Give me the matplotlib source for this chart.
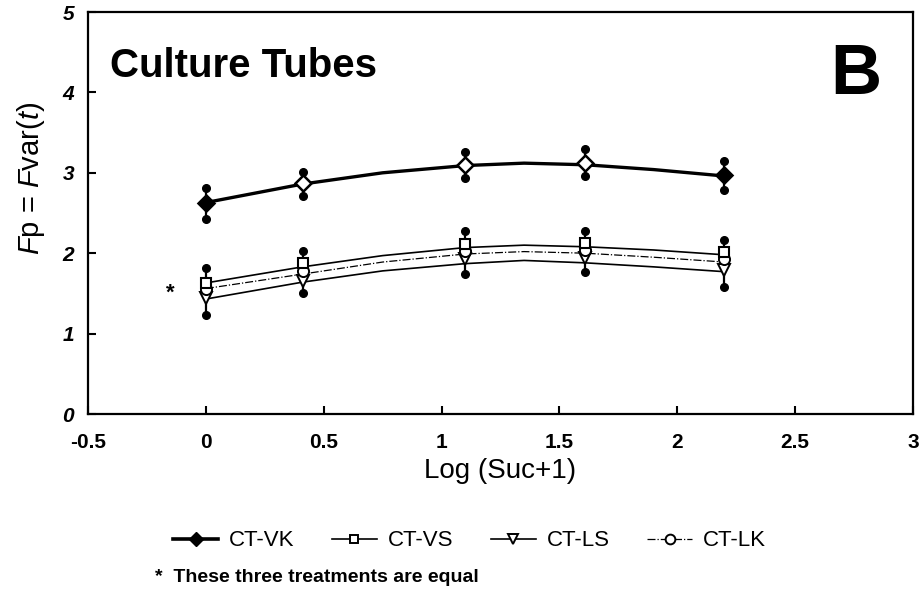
import numpy as np
import matplotlib
matplotlib.use("Agg")
from matplotlib import pyplot as plt
from matplotlib.lines import Line2D

plt.rcParams['font.family'] = ['Liberation Sans', 'DejaVu Sans']
plt.rcParams['mathtext.fontset'] = 'custom'
plt.rcParams['mathtext.rm'] = 'Liberation Sans'
plt.rcParams['mathtext.it'] = 'Liberation Sans:italic'

# measured points: Log(Suc+1)
x_pts = [0.0, 0.41, 1.10, 1.61, 2.20]
vk_mean = [2.63, 2.87, 3.10, 3.12, 2.97]
vs_mean = [1.63, 1.88, 2.12, 2.13, 2.02]
lk_mean = [1.55, 1.78, 2.03, 2.04, 1.93]
ls_mean = [1.44, 1.66, 1.93, 1.94, 1.79]
vk_hi = [2.81, 3.01, 3.26, 3.29, 3.15]
vk_lo = [2.43, 2.71, 2.94, 2.96, 2.78]
grp_hi = [1.81, 2.03, 2.28, 2.28, 2.16]
grp_lo = [1.23, 1.51, 1.74, 1.77, 1.58]
vk_open = [False, True, True, True, False]

# fitted curves
x_fit = [0.0, 0.41, 0.75, 1.10, 1.35, 1.61, 1.90, 2.20]
vk_fit = [2.63, 2.86, 3.00, 3.09, 3.12, 3.10, 3.04, 2.96]
vs_fit = [1.63, 1.83, 1.97, 2.07, 2.10, 2.08, 2.04, 1.98]
lk_fit = [1.56, 1.74, 1.89, 1.99, 2.02, 2.00, 1.95, 1.89]
ls_fit = [1.43, 1.64, 1.78, 1.87, 1.91, 1.88, 1.83, 1.77]

labels = ["CT-VK", "CT-VS", "CT-LS", "CT-LK"]

fig = plt.figure(figsize=(9.21, 5.94), dpi=100)
ax = fig.add_axes([88 / 921, 1 - 414 / 594, 825 / 921, 402 / 594])

# error bars (vertical line with dot ends)
for xs, lo, hi in [(x_pts, vk_lo, vk_hi), (x_pts, grp_lo, grp_hi)]:
    ax.vlines(xs, lo, hi, color='k', lw=1.6, zorder=2)
    ax.plot(xs, lo, 'o', color='k', ms=5.5, zorder=3)
    ax.plot(xs, hi, 'o', color='k', ms=5.5, zorder=3)

# curves
ax.plot(x_fit, vk_fit, '-', color='k', lw=2.4, zorder=2)
ax.plot(x_fit, vs_fit, '-', color='k', lw=1.2, zorder=2)
ax.plot(x_fit, lk_fit, '-.', color='k', lw=0.9, zorder=2)
ax.plot(x_fit, ls_fit, '-', color='k', lw=1.2, zorder=2)

# markers
for xv, yv, op in zip(x_pts, vk_mean, vk_open):
    ax.plot(xv, yv, 'D', ms=8, mec='k', mew=1.8, mfc='white' if op else 'k', zorder=4)
ax.plot(x_pts, ls_mean, 'v', ms=9, mec='k', mfc='white', mew=1.4, ls='none', zorder=4)
ax.plot(x_pts, lk_mean, 'o', ms=8, mec='k', mfc='white', mew=1.4, ls='none', zorder=4)
ax.plot(x_pts, vs_mean, 's', ms=7.5, mec='k', mfc='white', mew=1.5, ls='none', zorder=4)

ax.text(-0.15, 1.5, '*', fontsize=16, fontweight='bold', ha='center', va='center')

ax.set_xlim(-0.5, 3)
ax.set_ylim(0, 5)
ax.set_xticks(np.arange(-0.5, 3.01, 0.5))
ax.set_yticks(np.arange(0, 6, 1))
ax.set_xticklabels(['-0.5', '0', '0.5', '1', '1.5', '2', '2.5', '3'])
ax.set_yticklabels(['0', '1', '2', '3', '4', '5'])
for lab in ax.get_xticklabels() + ax.get_yticklabels():
    lab.set_fontweight('bold')
    lab.set_fontsize(15)
for lab in ax.get_yticklabels():
    lab.set_fontstyle('italic')
ax.tick_params(direction='in', length=6, width=1.5)
ax.tick_params(axis='x', pad=14)
ax.tick_params(axis='y', pad=10)
for sp in ax.spines.values():
    sp.set_linewidth(1.6)

ax.set_xlabel('Log (Suc+1)', fontsize=20, labelpad=4)
ax.set_ylabel(r'$\mathit{F}\mathrm{p}$ = $\mathit{F}\mathrm{var}(\mathit{t})$', fontsize=21,
              va='center')
ax.yaxis.set_label_coords(-0.069, 0.585)

ax.text(0.027, 0.865, 'Culture Tubes', transform=ax.transAxes, fontsize=29,
        fontweight='bold', va='center', ha='left')
ax.text(0.962, 0.84, 'B', transform=ax.transAxes, fontsize=51,
        fontweight='bold', va='center', ha='right')

handles = [
    Line2D([], [], color='k', lw=2.6, marker='D', ms=7, mfc='k', mec='k'),
    Line2D([], [], color='k', lw=1.2, marker='s', ms=6, mfc='white', mec='k', mew=1.4),
    Line2D([], [], color='k', lw=1.2, marker='v', ms=7, mfc='white', mec='k', mew=1.4),
    Line2D([], [], color='k', lw=0.9, ls='-.', marker='o', ms=7, mfc='white', mec='k', mew=1.4),
]
fig.legend(handles, labels, ncol=4, frameon=False, loc='center',
           bbox_to_anchor=(0.51, 1 - 541 / 594), fontsize=16,
           handlelength=2.0, columnspacing=1.7, handletextpad=0.5)

fig.text(155 / 921, 1 - 578 / 594, '*  These three treatments are equal',
         fontsize=14, fontweight='bold', ha='left', va='center')

fig.savefig('out.png', dpi=100)
